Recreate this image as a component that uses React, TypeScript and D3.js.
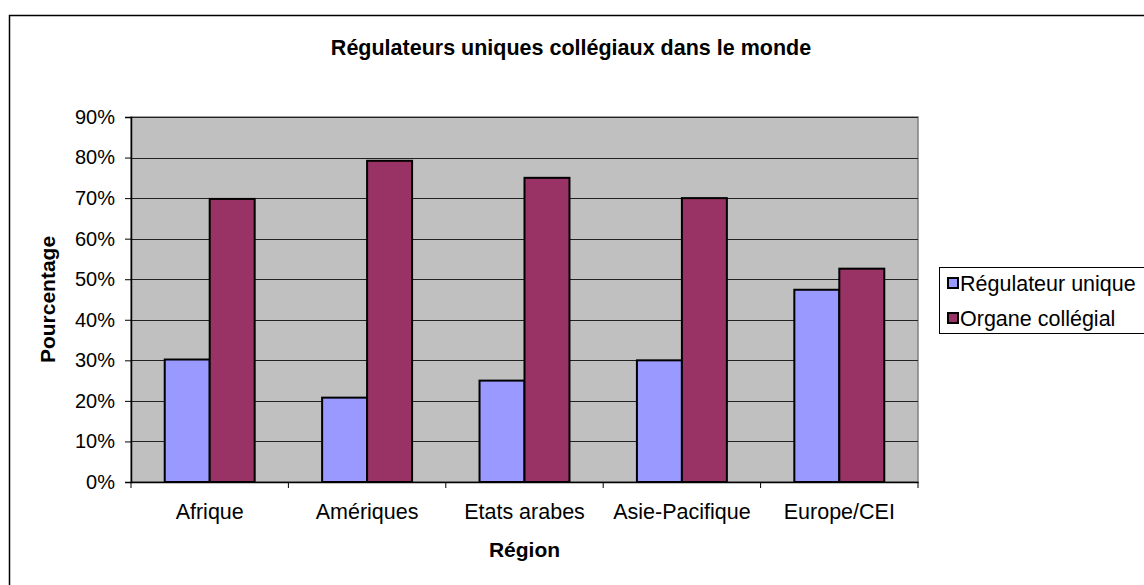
import React, { useEffect, useRef } from "react";
import * as d3 from "d3";

const regions = ["Afrique", "Amériques", "Etats arabes", "Asie-Pacifique", "Europe/CEI"];
const seriesNames = ["Régulateur unique", "Organe collégial"];
const regulateurUnique = [0.302, 0.208, 0.25, 0.3, 0.474];
const organeCollegial = [0.698, 0.792, 0.75, 0.7, 0.526];
const seriesColors = ["#9999FF", "#993366"];
const yTicks = [0, 0.1, 0.2, 0.3, 0.4, 0.5, 0.6, 0.7, 0.8, 0.9];

const W = 1144;
const H = 585;
const FONT = "Arial, 'Liberation Sans', sans-serif";

const App: React.FC = () => {
  const svgRef = useRef<SVGSVGElement>(null);

  useEffect(() => {
    if (!svgRef.current) return;
    const svg = d3.select(svgRef.current);
    svg.selectAll("*").remove();

    const plot = { left: 131, right: 918, top: 117, bottom: 482 };

    // outer chart frame
    svg.append("rect")
      .attr("x", 9.5).attr("y", 15.5)
      .attr("width", W + 20).attr("height", H + 20)
      .attr("fill", "#fff").attr("stroke", "#000").attr("stroke-width", 1.5);

    const x = d3.scaleBand<string>()
      .domain(regions)
      .range([plot.left, plot.right])
      .padding(0);

    const xs = d3.scaleBand<string>()
      .domain(seriesNames)
      .range([0, x.bandwidth()])
      .paddingInner(0)
      .paddingOuter(0.75);

    const y = d3.scaleLinear().domain([0, 0.9]).range([plot.bottom, plot.top]);

    // plot area
    svg.append("rect")
      .attr("x", plot.left).attr("y", plot.top)
      .attr("width", plot.right - plot.left).attr("height", plot.bottom - plot.top)
      .attr("fill", "#C0C0C0").attr("stroke", "#808080").attr("stroke-width", 1.5);

    // gridlines
    svg.append("g")
      .selectAll("line")
      .data(yTicks.slice(1))
      .enter().append("line")
      .attr("x1", plot.left).attr("x2", plot.right)
      .attr("y1", d => Math.round(y(d)) + 0.5).attr("y2", d => Math.round(y(d)) + 0.5)
      .attr("stroke", "#222").attr("stroke-width", 1);

    // bars
    const table = regions.map((r, i) => ({ region: r, values: [regulateurUnique[i], organeCollegial[i]] }));
    const groups = svg.append("g")
      .selectAll("g")
      .data(table)
      .enter().append("g")
      .attr("transform", d => `translate(${x(d.region)},0)`);

    groups.selectAll("rect")
      .data(d => d.values.map((v, k) => ({ name: seriesNames[k], v, k })))
      .enter().append("rect")
      .attr("x", d => xs(d.name)!)
      .attr("y", d => y(d.v))
      .attr("width", xs.bandwidth())
      .attr("height", d => plot.bottom - y(d.v))
      .attr("fill", d => seriesColors[d.k])
      .attr("stroke", "#000").attr("stroke-width", 2);

    // y axis
    const yAxis = svg.append("g")
      .attr("transform", `translate(${plot.left},0)`)
      .call(d3.axisLeft(y).tickValues(yTicks).tickFormat(d3.format(".0%")).tickSize(6).tickPadding(10));
    yAxis.select(".domain").attr("stroke", "#000").attr("stroke-width", 1.5);
    yAxis.selectAll(".tick line").attr("stroke", "#000");
    yAxis.selectAll("text").attr("font-family", FONT).attr("font-size", 20).attr("fill", "#000");

    // x axis
    const xAxis = svg.append("g")
      .attr("transform", `translate(0,${plot.bottom})`)
      .call(d3.axisBottom(x).tickSize(0).tickPadding(22));
    xAxis.select(".domain").attr("stroke", "#000").attr("stroke-width", 1.5);
    xAxis.selectAll("text").attr("font-family", FONT).attr("font-size", 21.5).attr("fill", "#000");
    xAxis.selectAll(".sep")
      .data(d3.range(regions.length + 1))
      .enter().append("line")
      .attr("x1", i => plot.left + i * x.step()).attr("x2", i => plot.left + i * x.step())
      .attr("y1", 0).attr("y2", 6)
      .attr("stroke", "#000");

    // titles
    svg.append("text")
      .attr("x", 571).attr("y", 55)
      .attr("text-anchor", "middle")
      .attr("font-family", FONT).attr("font-weight", "bold").attr("font-size", 21.5)
      .text("Régulateurs uniques collégiaux dans le monde");

    svg.append("text")
      .attr("x", (plot.left + plot.right) / 2).attr("y", 557)
      .attr("text-anchor", "middle")
      .attr("font-family", FONT).attr("font-weight", "bold").attr("font-size", 21)
      .text("Région");

    svg.append("text")
      .attr("transform", `translate(55,${(plot.top + plot.bottom) / 2}) rotate(-90)`)
      .attr("text-anchor", "middle")
      .attr("font-family", FONT).attr("font-weight", "bold").attr("font-size", 21)
      .text("Pourcentage");

    // legend
    const lg = svg.append("g").attr("transform", "translate(939,267)");
    lg.append("rect")
      .attr("x", 0.5).attr("y", 0.5).attr("width", 260).attr("height", 66)
      .attr("fill", "#fff").attr("stroke", "#000").attr("stroke-width", 1);
    const items = lg.selectAll(".item")
      .data(seriesNames)
      .enter().append("g")
      .attr("transform", (_, i) => `translate(0,${17 + i * 35})`);
    items.append("rect")
      .attr("x", 9).attr("y", -6).attr("width", 10).attr("height", 10)
      .attr("fill", (_, i) => seriesColors[i])
      .attr("stroke", "#000").attr("stroke-width", 2);
    items.append("text")
      .attr("x", 21).attr("y", 7)
      .attr("font-family", FONT).attr("font-size", 21.5)
      .text(d => d);
  }, []);

  return (
    <svg
      ref={svgRef}
      width={W}
      height={H}
      style={{ position: "absolute", left: 0, top: 0, background: "#fff" }}
    />
  );
};

export default App;
